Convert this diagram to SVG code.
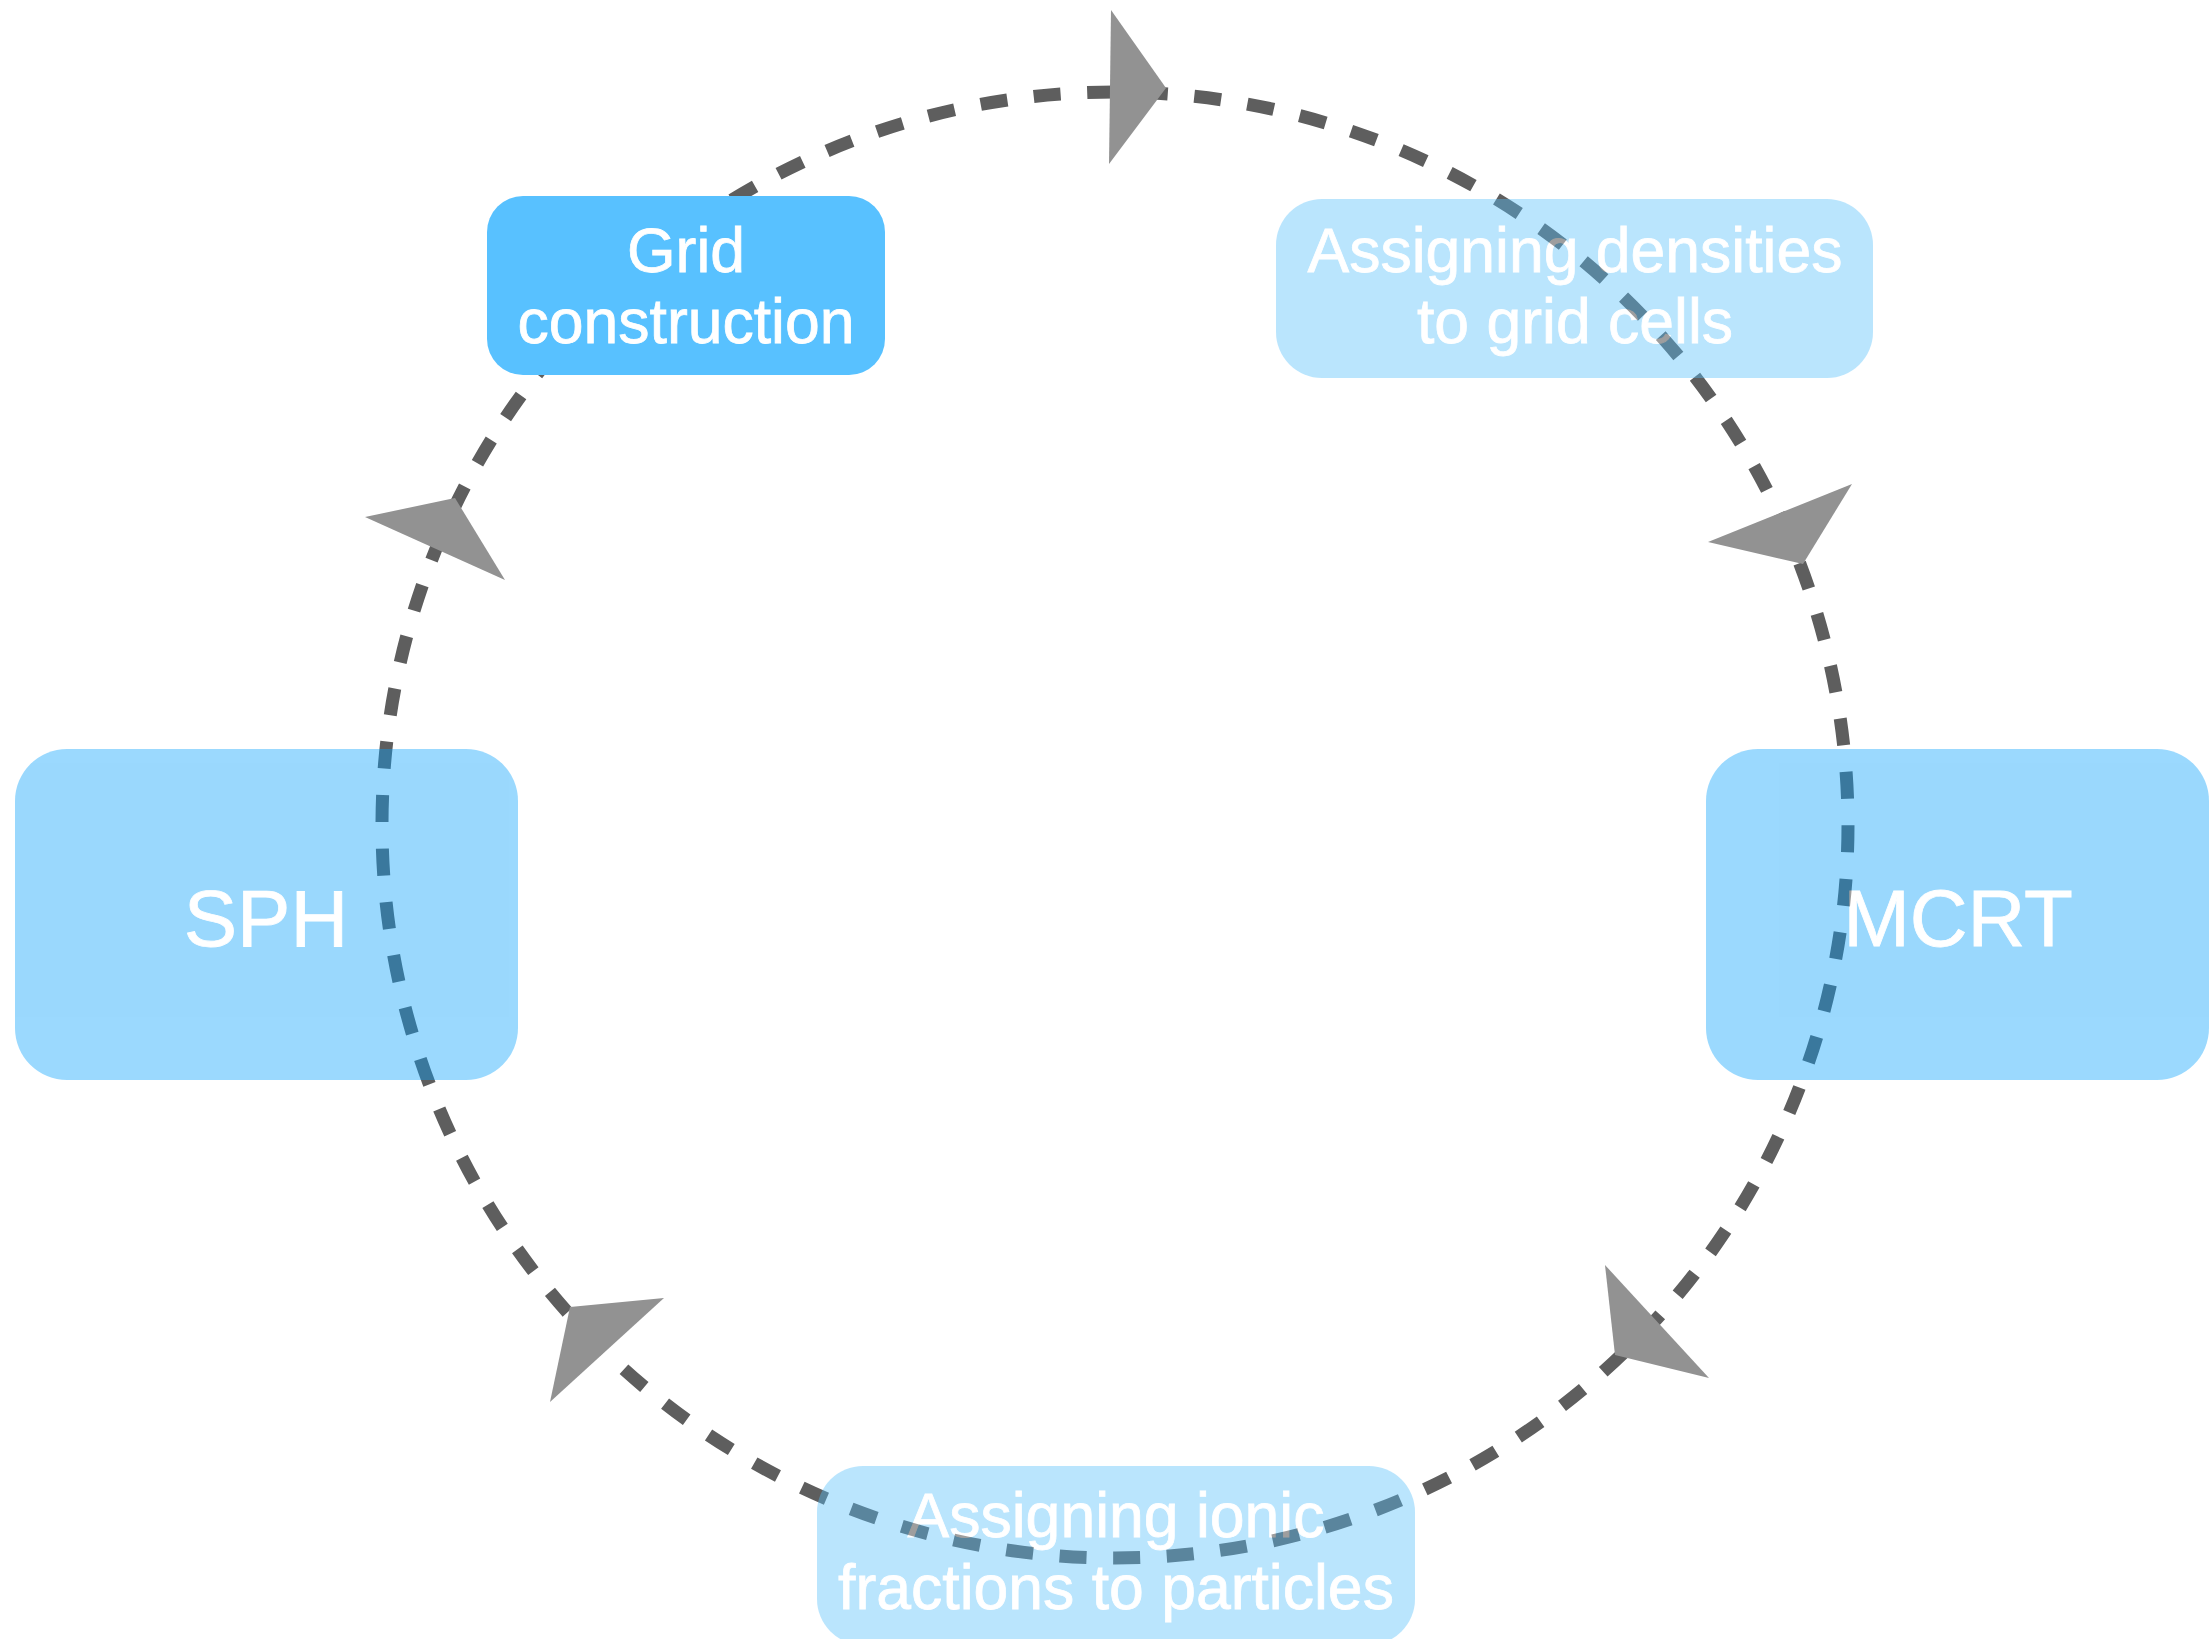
<svg xmlns="http://www.w3.org/2000/svg" width="2209" height="1639" viewBox="0 0 2209 1639">
  <style>
    .loop { fill: none; stroke: #5E5E5E; stroke-width: 13; stroke-dasharray: 27 26.61; stroke-dashoffset: 32.91; }
    .head { fill: #929292; stroke: none; }
    .lbl { font-family: "Liberation Sans", Arial, Helvetica, sans-serif; fill: #FFFFFF; stroke: #FFFFFF; stroke-width: 0.8; text-anchor: middle; }
    .small { font-size: 62.5px; }
    .big { font-size: 80px; }
    .step { fill: #58C1FF; }
    .faint { opacity: 0.4; }
    .faint .box { fill: #55C0FC; }
    .main .box { fill: #05A0FC; }
  </style>
  <rect width="2209" height="1639" fill="#FFFFFF"/>
  <g id="connectors">
    <path class="loop" d="M 629.2 276.1 A 733 733 0 0 1 1600.8 1373.9 A 733 733 0 0 1 629.2 276.1"/>
    <polygon class="head" points="1111,10 1166,88 1109,164"/>
    <polygon class="head" points="1852,484 1708,542 1803,564"/>
    <polygon class="head" points="1605,1265 1615,1355 1709,1378"/>
    <polygon class="head" points="570,1307 664,1298 550,1402"/>
    <polygon class="head" points="365,517 455,498 505,580"/>
  </g>
  <g id="node-grid">
    <rect class="step" x="487" y="196" width="398" height="179" rx="36"/>
    <text class="lbl small" x="686" y="272">Grid</text>
    <text class="lbl small" x="686" y="343">construction</text>
  </g>
  <g id="node-densities" class="faint">
    <rect class="box" x="1276" y="199" width="597" height="179" rx="46"/>
    <text class="lbl small" x="1575" y="272">Assigning densities</text>
    <text class="lbl small" x="1575" y="343">to grid cells</text>
  </g>
  <g id="node-sph" class="faint main">
    <rect class="box" x="15" y="749" width="503" height="331" rx="52"/>
    <text class="lbl big" x="266" y="946">SPH</text>
  </g>
  <g id="node-mcrt" class="faint main">
    <rect class="box" x="1706" y="749" width="503" height="331" rx="52"/>
    <text class="lbl big" x="1958" y="946">MCRT</text>
  </g>
  <g id="node-ionic" class="faint">
    <rect class="box" x="817" y="1466" width="598" height="179" rx="46"/>
    <text class="lbl small" x="1116" y="1537">Assigning ionic</text>
    <text class="lbl small" x="1116" y="1609">fractions to particles</text>
  </g>
</svg>
